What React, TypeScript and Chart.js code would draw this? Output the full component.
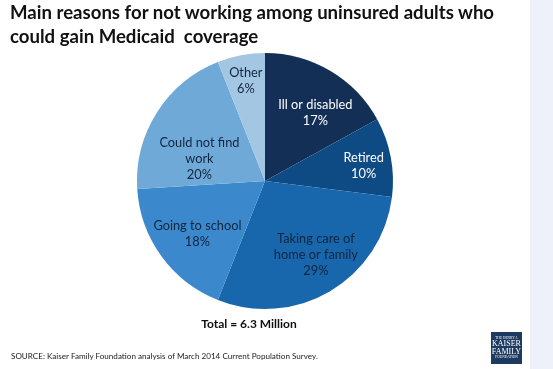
import React, { useEffect, useRef } from "react";
import { Chart, registerables } from "chart.js";

Chart.register(...registerables);

const categories = [
  ["Ill or disabled"],
  ["Retired"],
  ["Taking care of", "home or family"],
  ["Going to school"],
  ["Could not find", "work"],
  ["Other"],
];
const shares = [17, 10, 29, 18, 20, 6];
const sliceColors = ["#142f55", "#0e4b85", "#1866ab", "#3b89cc", "#6ea9d8", "#a3c6e3"];
const labelColors = ["#ffffff", "#ffffff", "#14253f", "#14253f", "#14253f", "#14253f"];
// label placement: [radius fraction, angle offset in degrees from slice middle]
const labelPlacement: [number, number][] = [
  [0.66, 6],
  [0.78, 2],
  [0.7, -4],
  [0.67, -2],
  [0.54, -14],
  [0.8, 0],
];

const FONT = "Lato, 'Open Sans', sans-serif";

const labelPlugin = {
  id: "sliceLabels",
  afterDatasetsDraw(chart: any) {
    const ctx = chart.ctx;
    const meta = chart.getDatasetMeta(0);
    ctx.save();
    ctx.font = `12.8px ${FONT}`;
    ctx.textAlign = "center";
    ctx.textBaseline = "middle";
    meta.data.forEach((arc: any, i: number) => {
      const p = arc.getProps(["x", "y", "startAngle", "endAngle", "outerRadius"], true);
      const [frac, off] = labelPlacement[i];
      const a = (p.startAngle + p.endAngle) / 2 + (off * Math.PI) / 180;
      const r = p.outerRadius * frac;
      const cx = p.x + Math.cos(a) * r;
      const cy = p.y + Math.sin(a) * r;
      const lines = [...categories[i], `${shares[i]}%`];
      const lh = 16;
      ctx.fillStyle = labelColors[i];
      lines.forEach((t, k) => {
        ctx.fillText(t, cx, cy + (k - (lines.length - 1) / 2) * lh);
      });
    });
    ctx.restore();
  },
};

export default function App() {
  const ref = useRef<HTMLCanvasElement | null>(null);
  useEffect(() => {
    if (!ref.current) return;
    const chart = new Chart(ref.current, {
      type: "pie",
      data: {
        labels: categories.map((c) => c.join(" ")),
        datasets: [
          {
            data: shares,
            backgroundColor: sliceColors,
            borderWidth: 0,
          },
        ],
      },
      options: {
        animation: false,
        responsive: false,
        maintainAspectRatio: false,
        layout: { padding: { left: 137, right: 160, top: 53, bottom: 60 } },
        plugins: { legend: { display: false }, tooltip: { enabled: false } },
      },
      plugins: [labelPlugin],
    });
    return () => chart.destroy();
  }, []);

  return (
    <div
      style={{
        position: "fixed",
        left: 0,
        top: 0,
        width: 553,
        height: 369,
        background: "#ffffff",
        overflow: "hidden",
        fontFamily: FONT,
      }}
    >
      <div
        style={{
          position: "absolute",
          left: 530,
          top: 0,
          width: 23,
          height: 369,
          background: "#eef1f9",
        }}
      />
      <canvas ref={ref} width={553} height={369} style={{ position: "absolute", left: 0, top: 0 }} />
      <div
        style={{
          position: "absolute",
          left: 10,
          top: 0,
          width: 520,
          fontSize: 18.6,
          fontWeight: 700,
          lineHeight: "24px",
          color: "#111111",
          whiteSpace: "pre",
        }}
      >
        {"Main reasons for not working among uninsured adults who\ncould gain Medicaid  coverage"}
      </div>
      <div
        style={{
          position: "absolute",
          left: 0,
          width: 498,
          top: 316,
          textAlign: "center",
          fontSize: 12,
          fontWeight: 700,
          color: "#111111",
        }}
      >
        Total = 6.3 Million
      </div>
      <div
        style={{
          position: "absolute",
          left: 11,
          top: 351,
          fontSize: 8.1,
          color: "#222222",
          whiteSpace: "nowrap",
        }}
      >
        SOURCE: Kaiser Family Foundation analysis of March 2014 Current Population Survey.
      </div>
      <div
        style={{
          position: "absolute",
          left: 491,
          top: 332,
          width: 31,
          height: 32,
          background: "#1d3a60",
          color: "#ffffff",
          fontFamily: "'Liberation Serif', serif",
          textAlign: "center",
          display: "flex",
          flexDirection: "column",
          justifyContent: "center",
          lineHeight: 1,
        }}
      >
        <div style={{ fontSize: 3.5 }}>THE HENRY J.</div>
        <div style={{ fontSize: 8 }}>KAISER</div>
        <div style={{ fontSize: 8 }}>FAMILY</div>
        <div style={{ fontSize: 3.5 }}>FOUNDATION</div>
      </div>
    </div>
  );
}
